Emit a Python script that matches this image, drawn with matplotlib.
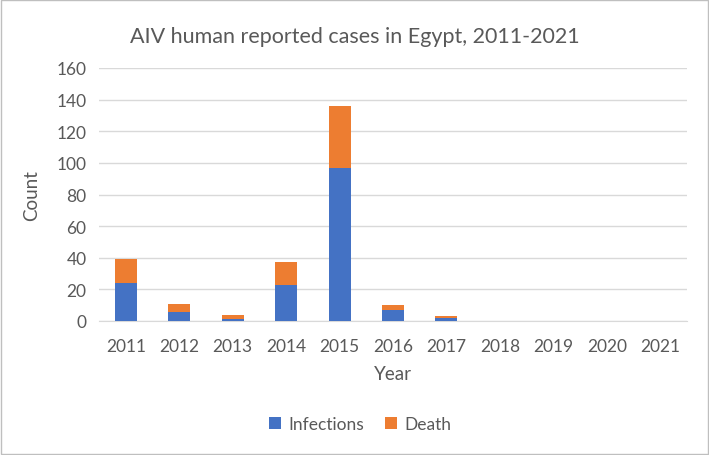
import matplotlib
matplotlib.use("Agg")
import matplotlib.pyplot as plt
import numpy as np

years = ["2011", "2012", "2013", "2014", "2015", "2016", "2017", "2018", "2019", "2020", "2021"]
infections = [24, 6, 1, 23, 97, 7, 2, 0, 0, 0, 0]
death = [15, 5, 3, 14, 39, 3, 1, 0, 0, 0, 0]
yticks = [0, 20, 40, 60, 80, 100, 120, 140, 160]

plt.rcParams['font.family'] = ['Lato', 'DejaVu Sans']
txt = '#595959'

fig = plt.figure(figsize=(7.09, 4.56), dpi=100)
ax = fig.add_axes([99/709, 1-322/456, 588/709, 253/456])

x = np.arange(len(years))
ax.bar(x, infections, width=0.41, color='#4472C4', label='Infections', zorder=3)
ax.bar(x, death, width=0.41, bottom=infections, color='#ED7D31', label='Death', zorder=3)

ax.set_xlim(-0.5, len(years) - 0.5)
ax.set_ylim(0, 160)
ax.set_yticks(yticks)
ax.set_yticklabels([str(v) for v in yticks], fontsize=12.5, color=txt)
ax.set_xticks(x)
ax.set_xticklabels(years, fontsize=12.5, color=txt)
ax.tick_params(axis='x', length=0, pad=12)
ax.tick_params(axis='y', length=0, pad=9)
ax.yaxis.grid(True, color='#D9D9D9', linewidth=1)
ax.set_axisbelow(True)
for s in ['top', 'right', 'left']:
    ax.spines[s].set_visible(False)
ax.spines['bottom'].set_color('#D9D9D9')

ax.set_ylabel('Count', fontsize=13.5, color=txt, labelpad=12)
ax.set_xlabel('Year', fontsize=13.5, color=txt, labelpad=8)
fig.text(355/709, 1-37/456, 'AIV human reported cases in Egypt, 2011-2021',
         ha='center', va='center', fontsize=15.5, color=txt)

fig.legend(loc='center', bbox_to_anchor=(360/709, 1-425/456), ncol=2, frameon=False,
           fontsize=12.5, labelcolor=txt, handlelength=0.7, handleheight=0.7,
           columnspacing=1.2, handletextpad=0.4)

border = plt.Rectangle((0.002, 0.003), 0.996, 0.994, transform=fig.transFigure,
                       fill=False, edgecolor='#BFBFBF', linewidth=1)
fig.patches.append(border)

fig.savefig('out.png', dpi=100)
